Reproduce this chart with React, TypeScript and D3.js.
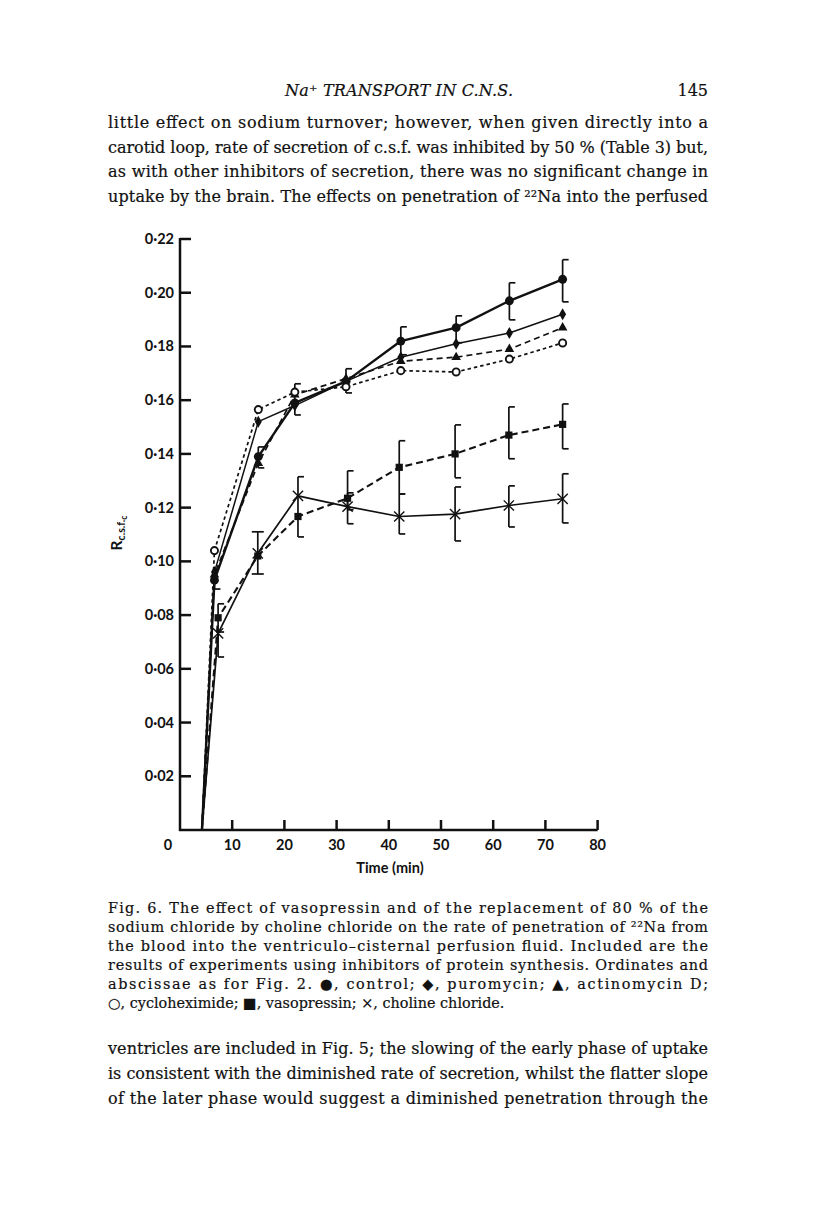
import React from 'react';
import * as d3 from 'd3';

// collection times (min)
const upperTimes = [6.6, 15.0, 22.0, 31.8, 42.3, 52.9, 63.1, 73.3];
const lowerTimes = [7.3, 14.9, 22.6, 32.1, 42.0, 52.7, 63.0, 73.3];
// every curve leaves the abscissa here
const uptakeStart = 4.2;

const control = [0.093, 0.139, 0.159, 0.167, 0.182, 0.187, 0.197, 0.205];
const controlLow = [0.0897, 0.1348, 0.1545, 0.1627, 0.1769, 0.1814, 0.1899, 0.1966];
const controlHigh = [null, 0.1426, 0.1661, 0.1717, 0.1873, 0.1914, 0.2037, 0.2123];

const puromycin = [0.096, 0.152, 0.158, 0.167, 0.176, 0.181, 0.185, 0.192];
const actinomycin = [0.095, 0.1365, 0.162, 0.168, 0.1745, 0.176, 0.179, 0.187];
const cycloheximide = [0.104, 0.1565, 0.163, 0.165, 0.171, 0.1705, 0.1753, 0.1813];

const vasopressin = [0.079, 0.102, 0.1167, 0.1235, 0.135, 0.14, 0.147, 0.151];
const vasopressinLow = [0.0737, 0.0953, 0.1091, 0.1192, 0.1251, 0.1311, 0.1382, 0.1419];
const vasopressinHigh = [0.0842, 0.111, 0.1315, 0.1337, 0.1449, 0.1508, 0.1575, 0.1586];

const choline = [0.0732, 0.103, 0.1244, 0.1204, 0.1167, 0.1176, 0.1208, 0.1233];
const cholineLow = [0.0644, null, null, 0.114, 0.1102, 0.1076, 0.1128, 0.1143];
const cholineHigh = [null, null, null, 0.1255, 0.1251, 0.1277, 0.1281, 0.1326];

const yTicks = [0.02, 0.04, 0.06, 0.08, 0.1, 0.12, 0.14, 0.16, 0.18, 0.2, 0.22];
const xTicks = [10, 20, 30, 40, 50, 60, 70, 80];

const headerText = 'Na\u207A TRANSPORT IN C.N.S.';
const pageNumber = '145';
const textAbove = [
  'little effect on sodium turnover; however, when given directly into a',
  'carotid loop, rate of secretion of c.s.f. was inhibited by 50 % (Table 3) but,',
  'as with other inhibitors of secretion, there was no significant change in',
  'uptake by the brain. The effects on penetration of \u00B2\u00B2Na into the perfused',
];
const captionLines = [
  'Fig. 6. The effect of vasopressin and of the replacement of 80 % of the',
  'sodium chloride by choline chloride on the rate of penetration of \u00B2\u00B2Na from',
  'the blood into the ventriculo\u2013cisternal perfusion fluid. Included are the',
  'results of experiments using inhibitors of protein synthesis. Ordinates and',
  'abscissae as for Fig. 2. \u25CF, control; \u25C6, puromycin; \u25B2, actinomycin D;',
  '\u25CB, cycloheximide; \u25A0, vasopressin; \u00D7, choline chloride.',
];
const textBelow = [
  'ventricles are included in Fig. 5; the slowing of the early phase of uptake',
  'is consistent with the diminished rate of secretion, whilst the flatter slope',
  'of the later phase would suggest a diminished penetration through the',
];

const series = [
  { name: 'control', times: upperTimes, values: control, low: controlLow, high: controlHigh },
  { name: 'puromycin', times: upperTimes, values: puromycin },
  { name: 'actinomycin', times: upperTimes, values: actinomycin },
  { name: 'cycloheximide', times: upperTimes, values: cycloheximide },
  { name: 'vasopressin', times: lowerTimes, values: vasopressin, low: vasopressinLow, high: vasopressinHigh },
  { name: 'choline', times: lowerTimes, values: choline, low: cholineLow, high: cholineHigh },
];

const ink = '#111';

const styles: Record<string, any> = {
  control: { symbol: d3.symbolCircle, size: 62, fill: ink, width: 2.4, dash: null },
  puromycin: { symbol: d3.symbolDiamond, size: 42, fill: ink, width: 1.5, dash: null },
  actinomycin: { symbol: d3.symbolTriangle, size: 40, fill: ink, width: 1.7, dash: '6,4' },
  cycloheximide: { symbol: d3.symbolCircle, size: 40, fill: 'white', stroke: 1.9, width: 1.7, dash: '3.5,3' },
  vasopressin: { symbol: d3.symbolSquare, size: 52, fill: ink, width: 2.1, dash: '7,4' },
  choline: { symbol: d3.symbolTimes, size: 70, fill: 'none', stroke: 1.4, width: 1.7, dash: null },
};

// the one error bar drawn with caps on both sides
const doubleCap = { series: 'vasopressin', index: 1 };

const serif = '"DejaVu Serif", serif';
const sans = 'Lato, "Open Sans", sans-serif';

export default function App() {
  const x = d3.scaleLinear().domain([0, 80]).range([180, 597.6]);
  const y = d3.scaleLinear().domain([0, 0.22]).range([830, 239]);
  const fmt = (v: number) => d3.format('.2f')(v).replace('.', '\u00B7');

  const line = d3
    .line<[number, number]>()
    .x((d) => x(d[0]))
    .y((d) => y(d[1]));

  return (
    <svg width={816} height={1229} style={{ position: 'absolute', left: 0, top: 0 }}>
      <rect width={816} height={1229} fill="white" />

      {/* running head and page text */}
      <g fill={ink} fontFamily={serif} stroke={ink} strokeWidth={0.2}>
        <text x={285} y={96} fontSize={16} fontStyle="italic" textLength={228} lengthAdjust="spacing">
          {headerText}
        </text>
        <text x={708} y={96} fontSize={16} textAnchor="end">{pageNumber}</text>
        {textAbove.map((t, i) => (
          <text key={i} x={108} y={128 + i * 24.7} fontSize={16} textLength={600} lengthAdjust="spacing">
            {t}
          </text>
        ))}
        {captionLines.map((t, i) => (
          <text key={i} x={108} y={913 + i * 19} fontSize={14.4}
            textLength={i < captionLines.length - 1 ? 600 : undefined} lengthAdjust="spacing">
            {t}
          </text>
        ))}
        {textBelow.map((t, i) => (
          <text key={i} x={108} y={1054 + i * 25} fontSize={16} textLength={600} lengthAdjust="spacing">
            {t}
          </text>
        ))}
      </g>

      {/* axes */}
      <g stroke={ink} strokeWidth={2.5} fill="none">
        <line x1={x(0)} x2={x(0)} y1={y(0) + 1} y2={y(0.22) - 1} />
        <line x1={x(0) - 1} x2={x(80)} y1={y(0)} y2={y(0)} />
        {yTicks.map((t) => (
          <line key={t} x1={x(0)} x2={x(0) + 11} y1={y(t)} y2={y(t)} />
        ))}
        {xTicks.map((t) => (
          <line key={t} x1={x(t)} x2={x(t)} y1={y(0)} y2={y(0) - 10} />
        ))}
      </g>
      <g fill={ink} fontFamily={sans} fontWeight={700} fontSize={14.5}>
        {yTicks.map((t) => (
          <text key={t} x={174} y={y(t) + 5} textAnchor="end">{fmt(t)}</text>
        ))}
        <text x={168} y={850} textAnchor="middle">0</text>
        {xTicks.map((t) => (
          <text key={t} x={x(t)} y={850} textAnchor="middle">{t}</text>
        ))}
        <text x={390} y={873} textAnchor="middle">Time (min)</text>
        <text transform="translate(122,533) rotate(-90)" textAnchor="middle" fontSize={15.5}>
          R
          <tspan fontSize={10.5} dy={3}>c.s.f.</tspan>
          <tspan fontSize={8.5} dy={2}>c</tspan>
        </text>
      </g>

      {/* curves */}
      {series.map((s) => {
        const st = styles[s.name];
        const pts: [number, number][] = [[uptakeStart, 0], ...s.times.map((t, i) => [t, s.values[i]] as [number, number])];
        return (
          <path key={s.name} d={line(pts) || ''} fill="none" stroke={ink} strokeWidth={st.width}
            strokeDasharray={st.dash || undefined} strokeLinejoin="round" />
        );
      })}

      {/* error bars */}
      <g stroke={ink} strokeWidth={1.7} fill="none">
        {series.map((s) =>
          s.times.map((t, i) => {
            const lo = s.low ? s.low[i] : null;
            const hi = s.high ? s.high[i] : null;
            if (lo == null && hi == null) return null;
            const cx = x(t);
            const y1 = y(lo ?? s.values[i]);
            const y2 = y(hi ?? s.values[i]);
            const both = doubleCap.series === s.name && doubleCap.index === i;
            const left = both ? cx - 6 : cx;
            return (
              <g key={s.name + i}>
                <line x1={cx} x2={cx} y1={y1} y2={y2} />
                {lo != null && <line x1={left} x2={cx + 6} y1={y1} y2={y1} />}
                {hi != null && <line x1={left} x2={cx + 6} y1={y2} y2={y2} />}
              </g>
            );
          })
        )}
      </g>

      {/* markers */}
      {series.map((s) => {
        const st = styles[s.name];
        const path = d3.symbol().type(st.symbol).size(st.size)() || '';
        return s.times.map((t, i) => (
          <path key={s.name + i} d={path} transform={`translate(${x(t)},${y(s.values[i])})`}
            fill={st.fill} stroke={st.stroke ? ink : 'none'} strokeWidth={st.stroke || 0} />
        ));
      })}
    </svg>
  );
}
